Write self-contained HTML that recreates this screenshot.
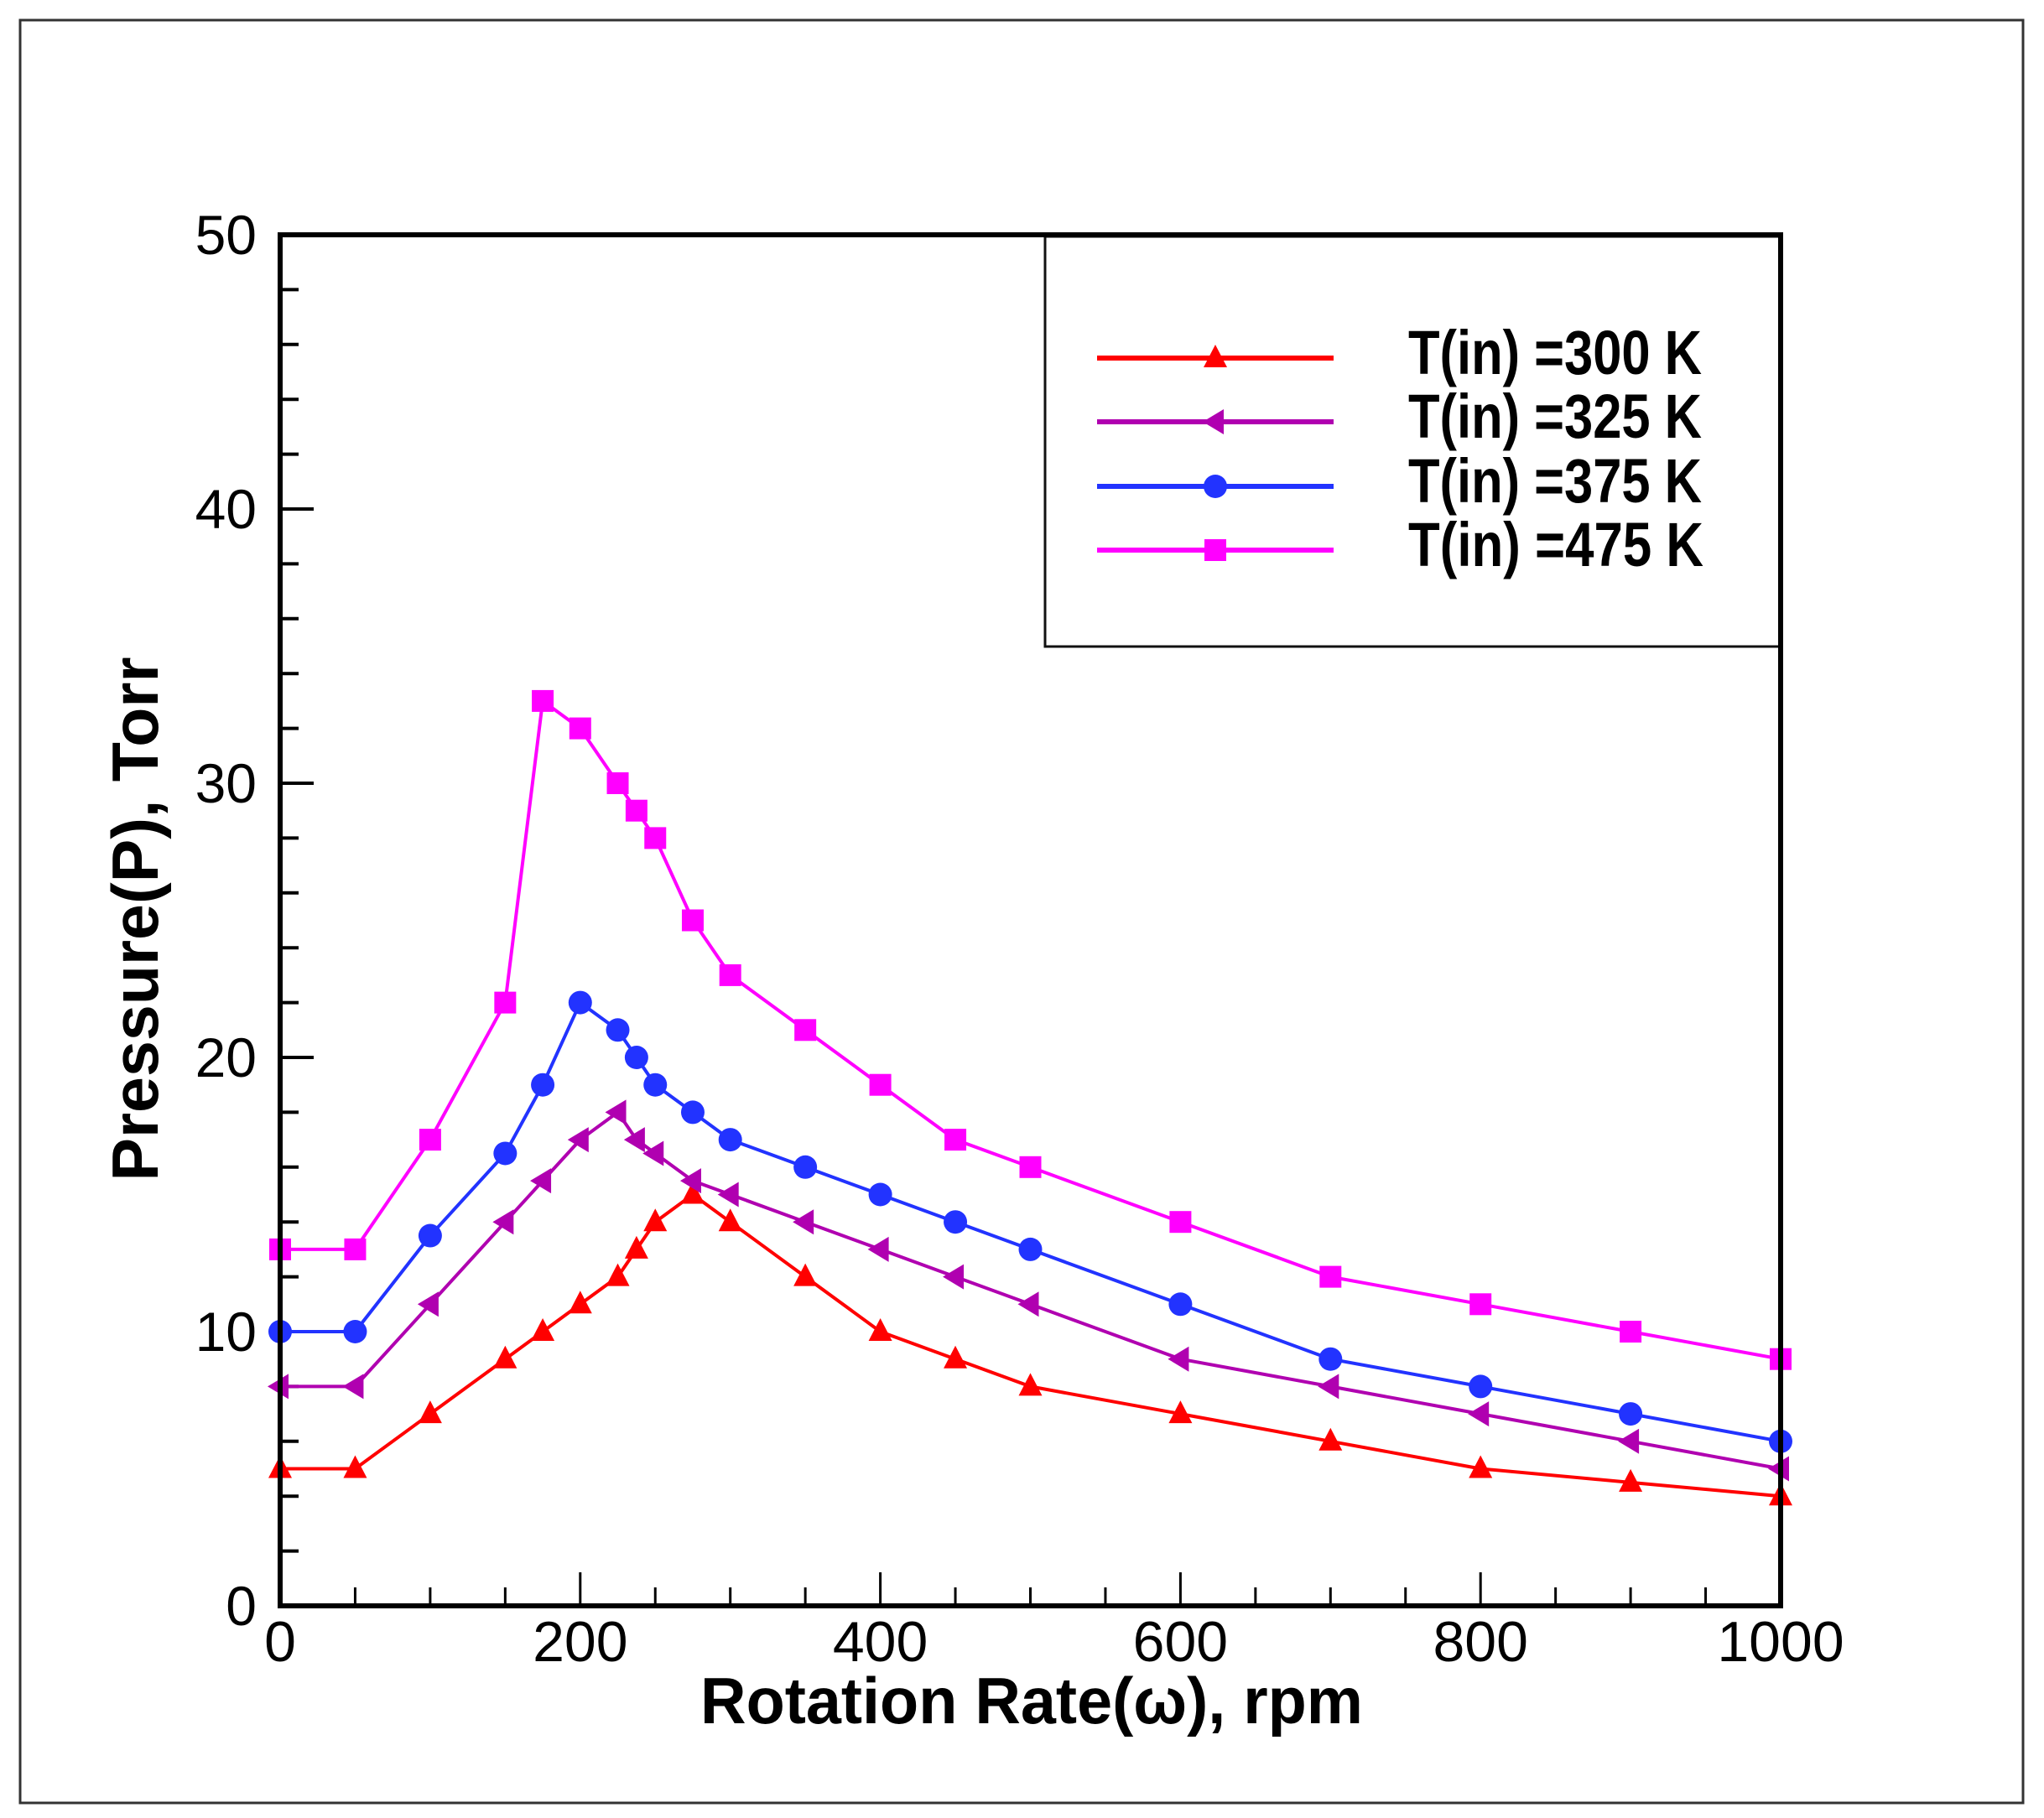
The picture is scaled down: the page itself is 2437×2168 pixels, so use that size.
<!DOCTYPE html>
<html><head><meta charset="utf-8"><style>html,body{margin:0;padding:0;background:#fff}svg{display:block}</style></head>
<body>
<svg id="s" xmlns="http://www.w3.org/2000/svg" width="2437" height="2168" viewBox="0 0 2437 2168">
<rect x="0" y="0" width="2437" height="2168" fill="#fff"/>
<rect x="24" y="24" width="2388" height="2126" fill="none" stroke="#333" stroke-width="3"/>
<g id="ticks" stroke="#000" stroke-width="4"></g>
<rect x="1246" y="282" width="877" height="489" fill="#fff" stroke="#111" stroke-width="3"/>
<g id="series"></g>
<rect x="334" y="280" width="1789" height="1635" fill="none" stroke="#000" stroke-width="6"/>
<g font-family="Liberation Sans, Arial, sans-serif" fill="#000" id="labels"></g>
<g font-family="Liberation Sans, Arial, sans-serif" font-weight="bold" font-size="74" fill="#000">
<text x="1679" y="446" textLength="350" lengthAdjust="spacingAndGlyphs">T(in) =300 K</text>
<text x="1679" y="522" textLength="350" lengthAdjust="spacingAndGlyphs">T(in) =325 K</text>
<text x="1679" y="599" textLength="350" lengthAdjust="spacingAndGlyphs">T(in) =375 K</text>
<text x="1679" y="675" textLength="352" lengthAdjust="spacingAndGlyphs">T(in) =475 K</text>
<text x="835" y="2055" font-size="78" textLength="790" lengthAdjust="spacingAndGlyphs">Rotation Rate(ω), rpm</text>
<text transform="translate(188,1096) rotate(-90)" text-anchor="middle" font-size="78" textLength="625" lengthAdjust="spacingAndGlyphs">Pressure(P), Torr</text>
</g>
</svg>
<script>
const X=v=>334+v*1.789, Y=v=>1915-v*32.7;
const NS="http://www.w3.org/2000/svg";
function el(p,t,a){const e=document.createElementNS(NS,t);for(const k in a)e.setAttribute(k,a[k]);p.appendChild(e);return e;}
const tk=document.getElementById('ticks');
for(let v=2;v<50;v+=2){const L=v%10==0?40:22;el(tk,'line',{x1:334,x2:334+L,y1:Y(v),y2:Y(v)});}
for(let v=50;v<1000;v+=50){const L=v%200==0?40:22;el(tk,'line',{x1:X(v),x2:X(v),y1:1915,y2:1915-L,'stroke-width':3});}
const lb=document.getElementById('labels');
for(let v=0;v<=50;v+=10){const t=el(lb,'text',{x:306,y:Y(v)+23,'text-anchor':'end','font-size':66});t.textContent=v;}
for(let v=0;v<=1000;v+=200){const t=el(lb,'text',{x:X(v),y:1981,'text-anchor':'middle','font-size':68});t.textContent=v;}
const xs=[0,50,100,150,175,200,225,237.5,250,275,300,350,400,450,500,600,700,800,900,1000];
const S=[
{c:'#ff0000',m:'tri',y:[5,5,7,9,10,11,12,13,14,15,14,12,10,9,8,7,6,5,4.5,4],ly:427},
{c:'#b000b0',m:'ltri',y:[8,8,11,14,15.5,17,18,17,16.5,15.5,15,14,13,12,11,9,8,7,6,5],ly:503},
{c:'#2233ff',m:'circ',y:[10,10,13.5,16.5,19,22,21,20,19,18,17,16,15,14,13,11,9,8,7,6],ly:580},
{c:'#ff00ff',m:'sq',y:[13,13,17,22,33,32,30,29,28,25,23,21,19,17,16,14,12,11,10,9],ly:656}];
const sg=document.getElementById('series');
function mk(m,x,y,c){
 if(m=='sq')el(sg,'rect',{x:x-13,y:y-13,width:26,height:26,fill:c});
 else if(m=='circ')el(sg,'circle',{cx:x,cy:y,r:14,fill:c});
 else if(m=='tri')el(sg,'polygon',{points:`${x},${y-16} ${x+14},${y+11} ${x-14},${y+11}`,fill:c});
 else el(sg,'polygon',{points:`${x-15},${y} ${x+10},${y-15} ${x+10},${y+15}`,fill:c});
}
S.forEach(s=>{
 el(sg,'polyline',{points:xs.map((x,i)=>X(x)+','+Y(s.y[i])).join(' '),fill:'none',stroke:s.c,'stroke-width':4,'stroke-linejoin':'round'});
 xs.forEach((x,i)=>mk(s.m,X(x),Y(s.y[i]),s.c));
 el(sg,'line',{x1:1308,x2:1590,y1:s.ly,y2:s.ly,stroke:s.c,'stroke-width':6});
 mk(s.m,1449,s.ly,s.c);
});
</script>
</body></html>
